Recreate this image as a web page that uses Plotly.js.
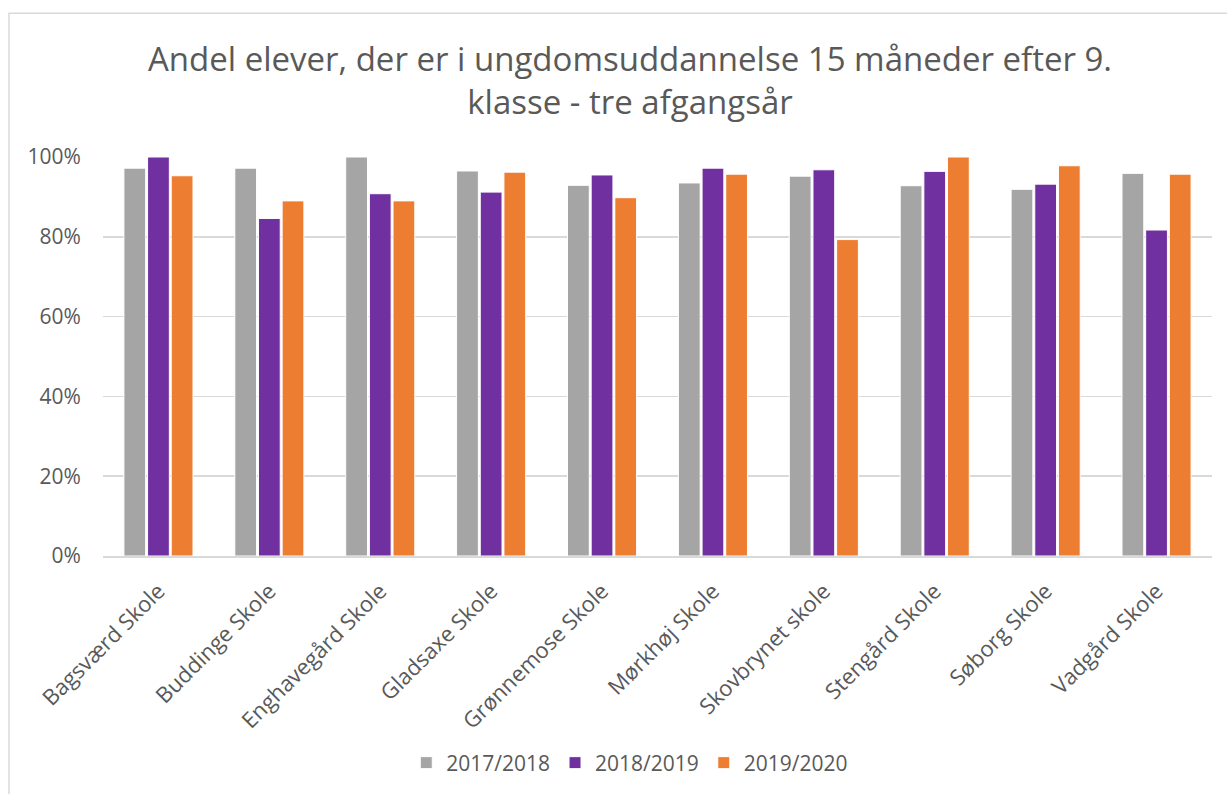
<!DOCTYPE html>
<html>
<head>
<meta charset="utf-8">
<script src="https://cdn.plot.ly/plotly-3.0.1.min.js"></script>
<style>html,body{margin:0;padding:0;background:#fff;}#chart{width:1227px;height:794px;}</style>
</head>
<body>
<div id="chart"></div>
<script>
const schools = ["Bagsværd Skole","Buddinge Skole","Enghavegård Skole","Gladsaxe Skole","Grønnemose Skole","Mørkhøj Skole","Skovbrynet skole","Stengård Skole","Søborg Skole","Vadgård Skole"];
const y2017 = [0.972,0.972,1.000,0.965,0.929,0.935,0.952,0.928,0.919,0.959];
const y2018 = [1.000,0.846,0.908,0.912,0.955,0.972,0.968,0.964,0.932,0.817];
const y2019 = [0.953,0.890,0.890,0.962,0.898,0.957,0.793,1.000,0.978,0.957];
const seriesNames = ["2017/2018","2018/2019","2019/2020"];
const colors = ["#A5A5A5","#7030A0","#ED7D31"];
const yTicks = [0,0.2,0.4,0.6,0.8,1.0];
const yTickText = ["0%","20%","40%","60%","80%","100%"];
const titleText = "Andel elever, der er i ungdomsuddannelse 15 måneder efter 9.<br>klasse - tre afgangsår";

const font = "Open Sans, Liberation Sans, sans-serif";
const values = [y2017, y2018, y2019];
const traces = values.map((v, i) => ({
  type: "bar",
  name: seriesNames[i],
  x: schools,
  y: v,
  marker: {color: colors[i], line: {color: "#ffffff", width: 1}},
  hoverinfo: "x+y+name"
}));

const W = 1227, H = 794;
const L = 103, R = 1212.5, T = 157, B = 557;
const pw = R - L, ph = B - T;

const layout = {
  width: W, height: H,
  paper_bgcolor: "#ffffff", plot_bgcolor: "#ffffff",
  margin: {l: L, r: W - R, t: T, b: H - B, pad: 0},
  barmode: "group",
  bargap: 0.36,
  bargroupgap: 0.08,
  font: {family: font, color: "#595959", size: 20},
  title: {
    text: titleText,
    x: 630 / W, xref: "container", xanchor: "center",
    y: 1 - 71 / H, yref: "container", yanchor: "middle",
    font: {family: font, size: 33, color: "#595959"}
  },
  xaxis: {
    tickangle: -45,
    showgrid: false,
    showline: true, linecolor: "#d9d9d9", linewidth: 1.5,
    ticks: "outside", ticklen: 12, tickcolor: "rgba(0,0,0,0)",
    tickfont: {family: font, size: 22, color: "#595959"},
    automargin: false
  },
  yaxis: {
    range: [0, 1.0],
    tickvals: yTicks,
    ticktext: yTickText,
    showgrid: true, gridcolor: "#d9d9d9", gridwidth: 1.5,
    zeroline: false, showline: false,
    ticks: "outside", ticklen: 17, tickcolor: "rgba(0,0,0,0)",
    tickfont: {family: font, size: 21, color: "#595959"},
    automargin: false
  },
  showlegend: true,
  legend: {
    orientation: "h",
    x: (630 - L) / pw, xanchor: "center",
    y: (B - 763) / ph, yanchor: "middle",
    font: {family: font, size: 21, color: "#595959"},
    itemwidth: 30,
    traceorder: "normal"
  },
  shapes: [{
    type: "rect", xref: "paper", yref: "paper",
    x0: (9 - L) / pw, x1: (1240 - L) / pw,
    y0: (B - 820) / ph, y1: (B - 13) / ph,
    line: {color: "#d9d9d9", width: 1.5},
    fillcolor: "rgba(0,0,0,0)",
    layer: "below"
  }]
};

Plotly.newPlot("chart", traces, layout, {displayModeBar: false, staticPlot: true});
</script>
</body>
</html>
